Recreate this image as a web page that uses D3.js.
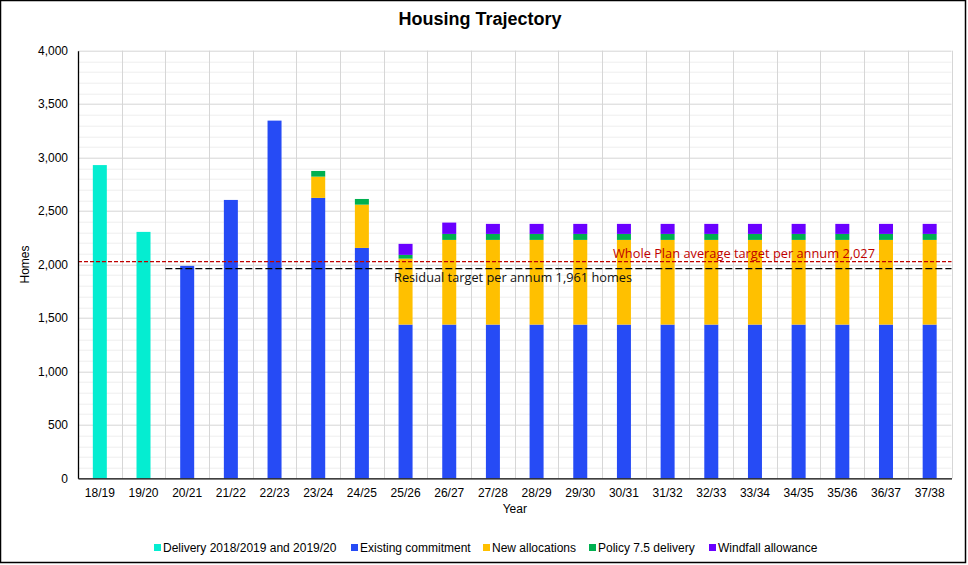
<!DOCTYPE html>
<html>
<head>
<meta charset="utf-8">
<script src="https://cdn.jsdelivr.net/npm/d3@7"></script>
<style>
  body { margin: 0; background: #fff; }
  svg { display: block; font-family: "Liberation Sans", Arial, sans-serif; }
</style>
</head>
<body>
<div id="chart"></div>
<script>
const years = ["18/19", "19/20", "20/21", "21/22", "22/23", "23/24", "24/25", "25/26", "26/27", "27/28",
  "28/29", "29/30", "30/31", "31/32", "32/33", "33/34", "34/35", "35/36", "36/37", "37/38"];
const delivery = [2930, 2305, 0, 0, 0, 0, 0, 0, 0, 0, 0, 0, 0, 0, 0, 0, 0, 0, 0, 0];
const existing = [0, 0, 1987, 2604, 3346, 2623, 2155, 1438, 1438, 1438, 1438, 1438, 1438, 1438, 1438, 1438, 1438, 1438, 1438, 1438];
const newAllocations = [0, 0, 0, 0, 0, 199, 405, 617, 792, 792, 792, 792, 792, 792, 792, 792, 792, 792, 792, 792];
const policy = [0, 0, 0, 0, 0, 53, 53, 35, 56, 56, 56, 56, 56, 56, 56, 56, 56, 56, 56, 56];
const windfall = [0, 0, 0, 0, 0, 0, 0, 103, 106, 94, 94, 94, 94, 94, 94, 94, 94, 94, 94, 94];
const seriesNames = ["Delivery 2018/2019 and 2019/20", "Existing commitment", "New allocations", "Policy 7.5 delivery", "Windfall allowance"];
const seriesColors = ["#05edd1", "#264bf5", "#ffc000", "#00b050", "#6a00ff"];
const yTicks = [0, 500, 1000, 1500, 2000, 2500, 3000, 3500, 4000];
const wholePlanTarget = 2027;
const residualTarget = 1961;
const residualStart = "20/21";

const W = 968, H = 565;
const margin = { top: 50.7, right: 16.5, bottom: 86.7, left: 78 };
const width = W - margin.left - margin.right;
const height = H - margin.top - margin.bottom;

const svg = d3.select("#chart").append("svg").attr("width", W).attr("height", H);

// outer frame
svg.append("rect")
  .attr("x", 0.5).attr("y", 0.5).attr("width", W - 3).attr("height", H - 3)
  .attr("fill", "#fff").attr("stroke", "#000").attr("stroke-width", 1.5);

svg.append("text")
  .attr("x", 480).attr("y", 25)
  .attr("text-anchor", "middle")
  .style("font-size", "18px").style("font-weight", "bold")
  .text("Housing Trajectory");

const g = svg.append("g").attr("transform", `translate(${margin.left},${margin.top})`);

const x = d3.scaleBand().domain(years).range([0, width]).paddingInner(0).paddingOuter(0);
const y = d3.scaleLinear().domain([0, 4000]).range([height, 0]);

// minor horizontal grid every 100
g.append("g").selectAll("line")
  .data(d3.range(100, 4000, 100).filter(v => v % 500 !== 0))
  .join("line")
  .attr("x1", 0).attr("x2", width)
  .attr("y1", d => Math.round(y(d)) + 0.5).attr("y2", d => Math.round(y(d)) + 0.5)
  .attr("stroke", "#eeeeee");

// major horizontal grid
g.append("g").selectAll("line")
  .data(yTicks.slice(1))
  .join("line")
  .attr("x1", 0).attr("x2", width)
  .attr("y1", d => Math.round(y(d)) + 0.5).attr("y2", d => Math.round(y(d)) + 0.5)
  .attr("stroke", "#d6d6d6");

// vertical grid at category boundaries
g.append("g").selectAll("line")
  .data(years.slice(1).concat(["end"]))
  .join("line")
  .attr("x1", (d, i) => Math.round(i < years.length - 1 ? x(d) : width) + 0.5)
  .attr("x2", (d, i) => Math.round(i < years.length - 1 ? x(d) : width) + 0.5)
  .attr("y1", 0).attr("y2", height)
  .attr("stroke", "#d6d6d6");

// stacked bars
const rows = years.map((yr, i) => ({
  year: yr, s0: delivery[i], s1: existing[i], s2: newAllocations[i], s3: policy[i], s4: windfall[i]
}));
const stack = d3.stack().keys(["s0", "s1", "s2", "s3", "s4"])(rows);
const barW = 14;

g.append("g").selectAll("g")
  .data(stack)
  .join("g")
  .attr("fill", (d, i) => seriesColors[i])
  .selectAll("rect")
  .data(d => d.filter(p => p[1] - p[0] > 0))
  .join("rect")
  .attr("x", d => x(d.data.year) + x.bandwidth() / 2 - barW / 2)
  .attr("width", barW)
  .attr("y", d => y(d[1]))
  .attr("height", d => y(d[0]) - y(d[1]));

// target lines
g.append("line")
  .attr("x1", 0).attr("x2", width)
  .attr("y1", y(wholePlanTarget)).attr("y2", y(wholePlanTarget))
  .attr("stroke", "#c00000").attr("stroke-width", 1.4)
  .attr("stroke-dasharray", "4,2");

g.append("line")
  .attr("x1", x(residualStart)).attr("x2", width)
  .attr("y1", y(residualTarget)).attr("y2", y(residualTarget))
  .attr("stroke", "#000").attr("stroke-width", 1.3)
  .attr("stroke-dasharray", "7,3");

g.append("text")
  .attr("x", 613 - margin.left).attr("y", y(wholePlanTarget) - 4)
  .attr("textLength", 262).attr("lengthAdjust", "spacingAndGlyphs")
  .style("font-family", "'Open Sans', 'Noto Sans', sans-serif")
  .style("font-size", "13px").attr("fill", "#c00000")
  .text("Whole Plan average target per annum 2,027");

g.append("text")
  .attr("x", 394 - margin.left).attr("y", y(residualTarget) + 13)
  .attr("textLength", 238).attr("lengthAdjust", "spacingAndGlyphs")
  .style("font-family", "'Open Sans', 'Noto Sans', sans-serif")
  .style("font-size", "13px").attr("fill", "#111")
  .text("Residual target per annum 1,961  homes");

// axes
const yAxis = g.append("g")
  .call(d3.axisLeft(y).tickValues(yTicks).tickFormat(d3.format(",")).tickSize(0).tickPadding(10));
yAxis.select(".domain").attr("stroke", "#000").attr("stroke-width", 1.3);
yAxis.selectAll("text").style("font-size", "12px").attr("fill", "#000");

const xAxis = g.append("g")
  .attr("transform", `translate(0,${height})`)
  .call(d3.axisBottom(x).tickSize(0).tickPadding(10));
xAxis.select(".domain").attr("stroke", "#000").attr("stroke-width", 1.3);
xAxis.selectAll("text").style("font-size", "12px").attr("fill", "#000");

g.append("text")
  .attr("x", width / 2).attr("y", height + 35)
  .attr("text-anchor", "middle").style("font-size", "12px")
  .text("Year");

g.append("text")
  .attr("transform", `translate(${25 - margin.left},${height / 2}) rotate(-90)`)
  .attr("text-anchor", "middle").attr("dominant-baseline", "central")
  .style("font-size", "12px")
  .text("Homes");

// legend
const legendX = [154, 351, 483, 589, 709];
const legend = svg.append("g").selectAll("g")
  .data(seriesNames)
  .join("g")
  .attr("transform", (d, i) => `translate(${legendX[i]},547.5)`);
legend.append("rect")
  .attr("x", 0).attr("y", -3.5).attr("width", 7).attr("height", 7)
  .attr("fill", (d, i) => seriesColors[i]);
legend.append("text")
  .attr("x", 9).attr("dy", "0.35em")
  .style("font-size", "12px")
  .text(d => d);
</script>
</body>
</html>
